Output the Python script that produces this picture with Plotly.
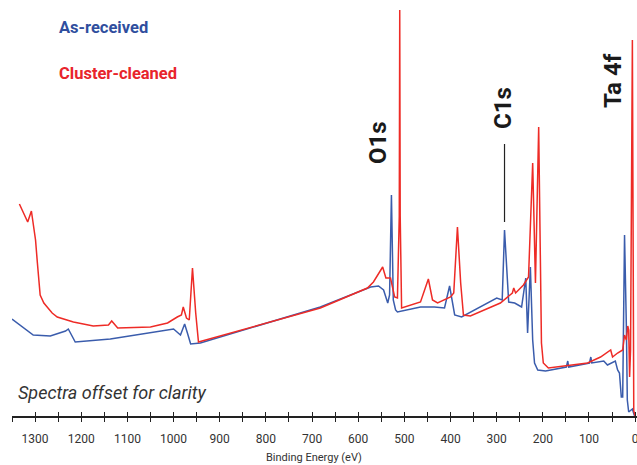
import plotly.graph_objects as go

# ---- data (binding energy in eV, intensity in arbitrary units) ----
as_received_energy = [1350, 1332, 1304, 1267, 1249, 1234, 1228, 1221, 1213, 1137, 1050, 1000, 985, 976, 970, 963,
                      942, 682, 573, 556, 545, 536, 532, 528, 524, 519, 515, 465, 435, 413, 402, 396, 391, 376,
                      300, 288, 283, 274, 261, 246, 237, 233, 227, 222, 218, 211, 194, 149, 146, 144, 99, 96, 94,
                      68, 60, 43, 38, 34, 30, 27, 23, 19, 17, 14, 6, 2, 0]
as_received_intensity = [97, 91, 81, 80, 83, 85, 87, 81, 74, 77, 83, 87, 81, 92, 83, 72,
                         73, 109, 129, 130, 126, 113, 121, 221, 116, 106, 104, 109, 109, 108, 130, 113, 101, 99,
                         118, 116, 186, 114, 113, 109, 138, 83, 149, 76, 53, 46, 45, 49, 55, 49, 53, 59, 53,
                         55, 51, 55, 46, 43, 19, 19, 181, 89, 16, 4, 7, 1, 0]

cleaned_energy = [1334, 1323, 1316, 1308, 1299, 1295, 1289, 1281, 1274, 1263, 1252, 1217, 1174, 1141, 1134, 1121,
                  1050, 1013, 992, 983, 979, 972, 966, 959, 952, 946, 682, 580, 567, 547, 540, 530, 521, 515,
                  511, 510, 509, 506, 465, 448, 439, 428, 400, 393, 385, 378, 372, 357, 292, 266, 263, 259, 242,
                  231, 222, 216, 209, 203, 199, 188, 103, 75, 53, 49, 38, 27, 23, 19, 16, 14, 12, 10, 6, 3, 0]
cleaned_intensity = [212, 202, 194, 205, 176, 153, 121, 113, 109, 103, 99, 94, 90, 91, 95, 88,
                     89, 93, 99, 101, 109, 98, 96, 148, 103, 74, 108, 128, 134, 149, 138, 138, 119, 118,
                     200, 406, 200, 108, 114, 137, 116, 113, 119, 123, 189, 133, 101, 100, 113, 123, 128, 123, 131,
                     139, 253, 133, 289, 73, 53, 48, 53, 59, 66, 59, 63, 66, 81, 76, 90, 86, 39, 66, 376, 5, 0]

tick_values = list(range(0, 1351, 50))
tick_labels = [str(v) if v % 100 == 0 else "" for v in tick_values]

series_names = ["As-received", "Cluster-cleaned"]
series_colors = ["#3a5cac", "#ee2b26"]
peak_labels = ["O1s", "C1s", "Ta 4f"]
c1s_energy = 283
c1s_marker_range = [194, 272]

FONT = "Roboto, Liberation Sans, sans-serif"

fig = go.Figure()
fig.add_trace(go.Scatter(x=as_received_energy, y=as_received_intensity, mode="lines",
                         line=dict(color=series_colors[0], width=1.5), name=series_names[0]))
fig.add_trace(go.Scatter(x=cleaned_energy, y=cleaned_intensity, mode="lines",
                         line=dict(color=series_colors[1], width=1.5), name=series_names[1]))

# C1s marker line
fig.add_trace(go.Scatter(x=[c1s_energy, c1s_energy], y=c1s_marker_range, mode="lines",
                         line=dict(color="#222222", width=1.2), hoverinfo="skip"))

W, H = 637, 465
L, R, T, B = 12, 0, 0, 49
pw, ph = W - L - R, H - T - B


def px(xp):
    return (xp - L) / pw


def py(yp):
    return (H - B - yp) / ph


anns = [
    dict(text="<b>" + series_names[0] + "</b>", x=px(57), y=py(28), xanchor="left", yanchor="middle",
         font=dict(size=16.5, color="#2f4e9e", family=FONT)),
    dict(text="<b>" + series_names[1] + "</b>", x=px(57), y=py(73), xanchor="left", yanchor="middle",
         font=dict(size=16.5, color="#e8242b", family=FONT)),
    dict(text="<b>" + peak_labels[0] + "</b>", x=px(378), y=py(143), textangle=-90,
         xanchor="center", yanchor="middle", font=dict(size=24, color="#1a1a1a", family=FONT)),
    dict(text="<b>" + peak_labels[1] + "</b>", x=px(503), y=py(108), textangle=-90,
         xanchor="center", yanchor="middle", font=dict(size=24, color="#1a1a1a", family=FONT)),
    dict(text="<b>" + peak_labels[2] + "</b>", x=px(613), y=py(81), textangle=-90,
         xanchor="center", yanchor="middle", font=dict(size=24, color="#1a1a1a", family=FONT)),
    dict(text="<i>Spectra offset for clarity</i>", x=px(16), y=py(392), xanchor="left", yanchor="middle",
         font=dict(size=18, color="#333333", family=FONT)),
    dict(text="Binding Energy (eV)", x=px(314), y=py(457), xanchor="center", yanchor="middle",
         font=dict(size=11, color="#333333", family=FONT)),
]
for a in anns:
    a.update(xref="paper", yref="paper", showarrow=False)

fig.update_layout(
    width=W, height=H,
    margin=dict(l=L, r=R, t=T, b=B, autoexpand=False),
    paper_bgcolor="white", plot_bgcolor="white",
    showlegend=False,
    annotations=anns,
    xaxis=dict(range=[1350, -4], tickvals=tick_values, ticktext=tick_labels,
               ticks="outside", ticklen=4, tickwidth=1.2, tickcolor="#222222",
               showline=True, linecolor="#222222", linewidth=1.5,
               showgrid=False, zeroline=False, ticklabelstandoff=7, ticklabeloverflow="allow",
               tickfont=dict(size=12, color="#333333", family=FONT)),
    xaxis2=dict(range=[1350, -4], overlaying="x", anchor="y", side="bottom",
                tickvals=tick_values, ticks="inside", ticklen=4, tickwidth=1.2, tickcolor="#222222",
                showticklabels=False, showgrid=False, zeroline=False, showline=False),
    yaxis=dict(range=[0, 416], visible=False, showgrid=False, zeroline=False),
)
fig.add_trace(go.Scatter(x=[None], y=[None], xaxis="x2", showlegend=False))

fig.write_html("out.html", config={"displayModeBar": False},
               post_script="document.body.style.margin='0px';document.body.style.overflow='hidden';")
